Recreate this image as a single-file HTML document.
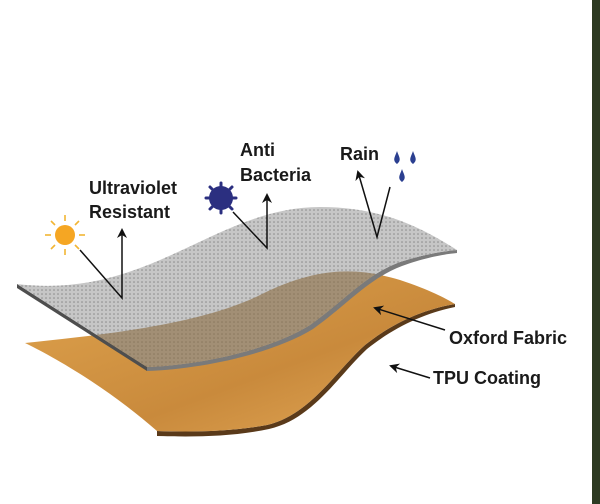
<!DOCTYPE html>
<html><head><style>
html,body{margin:0;padding:0;background:#fff;}
svg{display:block;}
text{font-family:"Liberation Sans",sans-serif;font-weight:bold;fill:#1a1a1a;font-size:18px;}
</style></head><body>
<svg width="600" height="504" viewBox="0 0 600 504" xmlns="http://www.w3.org/2000/svg">
<defs>
<pattern id="dots" width="4" height="4" patternUnits="userSpaceOnUse">
<rect width="4" height="4" fill="#c6c6c6"/><circle cx="2" cy="2" r="0.8" fill="#8a8a8a"/>
</pattern>
<linearGradient id="og" x1="0" y1="0" x2="1" y2="1">
<stop offset="0" stop-color="#e0a44e"/><stop offset="0.6" stop-color="#c98a3c"/><stop offset="1" stop-color="#e3a857"/>
</linearGradient>
<clipPath id="gclip"><path d="M17,284 C150,300 215,207 320,207 C385,207 425,230 457,250 C445,251 425,254 400,262 C365,275 345,300 310,325 C270,350 200,365 147,367 Z"/></clipPath>
<marker id="ah" markerWidth="10" markerHeight="10" refX="8" refY="5" orient="auto" markerUnits="userSpaceOnUse">
<path d="M0,0 L10,5 L0,10 L3,5 Z" fill="#111"/></marker>
</defs>
<rect x="592" y="0" width="8" height="504" fill="#2d3a22"/>
<!-- orange sheet -->
<path d="M455,304 C420,310 390,325 365,345 C335,372 310,415 267,425 C230,432 190,432 157,431 L157,436 C192,437 232,437 269,429 C313,419 338,376 367,349 C392,329 421,314 455,307 Z" fill="#5a3a1a"/>
<path d="M25,343 C100,335 200,325 260,295 C320,265 360,268 400,280 C430,290 445,298 455,304 C420,310 390,325 365,345 C335,372 310,415 267,425 C230,432 190,432 157,431 C110,390 60,360 25,343 Z" fill="url(#og)"/>
<!-- gray sheet edge -->
<path d="M17,284 L147,367 L147,371 L17,288 Z" fill="#4e4e4e"/>
<path d="M147,367 C200,365 270,350 310,325 C345,300 365,275 400,262 C425,254 445,251 457,250 L457,253 C446,254 427,257 402,266 C368,279 348,304 313,329 C272,354 202,369 147,371 Z" fill="#7a7a7a"/>
<path d="M17,284 C150,300 215,207 320,207 C385,207 425,230 457,250 C445,251 425,254 400,262 C365,275 345,300 310,325 C270,350 200,365 147,367 Z" fill="url(#dots)"/>
<g clip-path="url(#gclip)">
<path d="M25,343 C100,335 200,325 260,295 C320,265 360,268 400,280 C430,290 445,298 455,304 C420,310 390,325 365,345 C335,372 310,415 267,425 C230,432 190,432 157,431 C110,390 60,360 25,343 Z" fill="#8a6a40" opacity="0.6"/>
</g>
<!-- sun -->
<g stroke="#f2b534" stroke-width="1.6">
<line x1="65" y1="215" x2="65" y2="221"/><line x1="65" y1="249" x2="65" y2="255"/>
<line x1="45" y1="235" x2="51" y2="235"/><line x1="79" y1="235" x2="85" y2="235"/>
<line x1="51" y1="221" x2="55" y2="225"/><line x1="75" y1="245" x2="79" y2="249"/>
<line x1="79" y1="221" x2="75" y2="225"/><line x1="55" y1="245" x2="51" y2="249"/>
</g>
<circle cx="65" cy="235" r="10" fill="#f5a623"/>
<!-- virus -->
<circle cx="221" cy="198" r="12" fill="#2b2f80"/>
<g stroke="#2b2f80" stroke-width="3" stroke-linecap="round">
<line x1="221" y1="183" x2="221" y2="213"/><line x1="206" y1="198" x2="236" y2="198"/>
<line x1="210" y1="187" x2="232" y2="209"/><line x1="232" y1="187" x2="210" y2="209"/>
</g>
<!-- drops -->
<g fill="#2b3f90">
<path d="M397,151 C395,157 392,160 397,164 C402,160 399,157 397,151 Z"/>
<path d="M413,151 C411,157 408,160 413,164 C418,160 415,157 413,151 Z"/>
<path d="M402,169 C400,175 397,178 402,182 C407,178 404,175 402,169 Z"/>
</g>
<!-- arrows -->
<g stroke="#111" stroke-width="1.5" fill="none">
<polyline points="80,250 122,298 122,230" marker-end="url(#ah)"/>
<polyline points="233,212 267,248 267,195" marker-end="url(#ah)"/>
<polyline points="390,187 377,237 358,172" marker-end="url(#ah)"/>
<line x1="445" y1="330" x2="375" y2="308" marker-end="url(#ah)"/>
<line x1="430" y1="378" x2="391" y2="366" marker-end="url(#ah)"/>
</g>
<text x="240" y="156" font-size="19">Anti</text>
<text x="240" y="181" font-size="19">Bacteria</text>
<text x="340" y="160" font-size="19">Rain</text>
<text x="89" y="194" font-size="19">Ultraviolet</text>
<text x="89" y="218" font-size="19">Resistant</text>
<text x="449" y="344" font-size="19">Oxford Fabric</text>
<text x="433" y="384" font-size="19">TPU Coating</text>
</svg>
</body></html>
